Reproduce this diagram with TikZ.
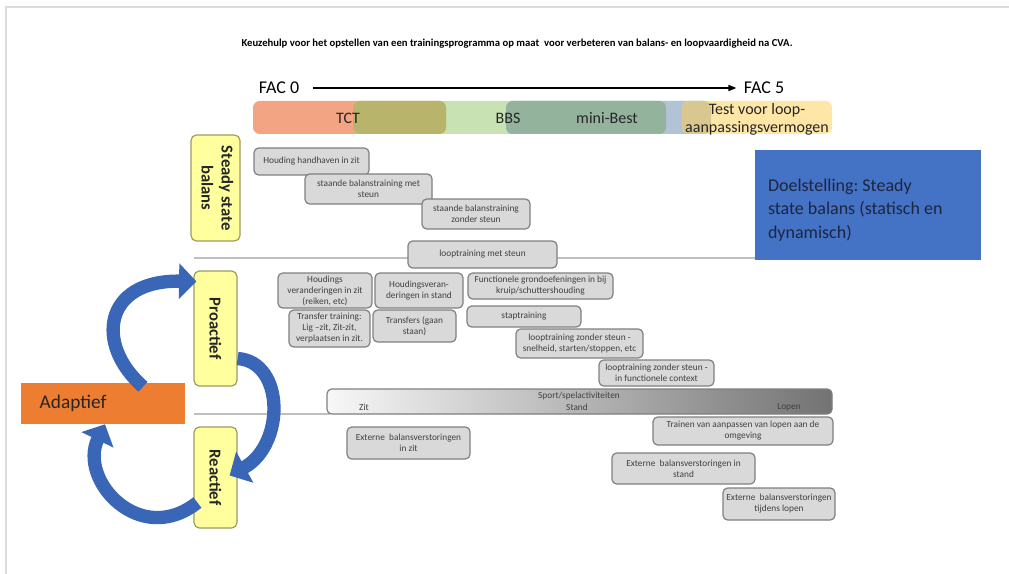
\documentclass[tikz,border=0pt]{standalone}
\usepackage{fontspec}
\setmainfont{Carlito}
\usetikzlibrary{positioning,arrows.meta,calc}

\definecolor{salmon}{HTML}{F3A483}
\definecolor{olivebar}{HTML}{B8B46C}
\definecolor{bbsgreen}{HTML}{C8E2B4}
\definecolor{minibest}{HTML}{94B39D}
\definecolor{bluegrey}{HTML}{B3C3D6}
\definecolor{testyellow}{HTML}{FDE6A6}
\definecolor{testtan}{HTML}{D8C88F}
\definecolor{boxgrey}{HTML}{D9D9D9}
\definecolor{boxedge}{HTML}{7F7F7F}
\definecolor{lblyellow}{HTML}{FFFF9E}
\definecolor{lbledge}{HTML}{9D9A62}
\definecolor{adaptorange}{HTML}{ED7D31}
\definecolor{doelblue}{HTML}{4472C4}
\definecolor{doeltext}{HTML}{1C2640}
\definecolor{arrowblue}{HTML}{3A66B8}
\definecolor{framegrey}{HTML}{DCDCDC}

\tikzstyle{gbox} = [draw=boxedge, fill=boxgrey, rounded corners=3.5pt, line width=0.9pt, align=flush center, font=\fontsize{7}{8.25}\selectfont, text=black!75, inner sep=1pt]
\tikzstyle{ybox} = [draw=lbledge, fill=lblyellow, rounded corners=4pt, line width=0.9pt, minimum width=32.25pt, font=\fontsize{12.5}{15}\selectfont\bfseries, text=black!85]
\tikzstyle{barlbl} = [font=\fontsize{12}{13.5}\selectfont, text=black!85, align=flush center]
\tikzstyle{sportlbl} = [font=\fontsize{7}{8}\selectfont, text=black!75, inner sep=0pt]
\tikzstyle{sepline} = [draw=black!25, line width=0.8pt]
\tikzstyle{loopflow} = [draw=arrowblue, line width=10pt, -{Triangle[length=13pt,width=26pt]}]

\begin{document}
\frenchspacing
\begin{tikzpicture}[x=0.75pt,y=-0.75pt]
\useasboundingbox (0,0) rectangle (1009,574);
\draw[framegrey, line width=1.5pt] (6,574) -- (6,7) -- (1009,7);

\node[font=\fontsize{8}{9.5}\selectfont\bfseries] (title) at (517,44) {Keuzehulp voor het opstellen van een trainingsprogramma op maat~ voor verbeteren van balans- en loopvaardigheid na CVA.};

\node[font=\fontsize{13.5}{15}\selectfont] (fac0) at (279,88) {FAC 0};
\node[font=\fontsize{13.5}{15}\selectfont] (fac5) at (764,88) {FAC 5};
\draw[line width=1pt, -{Triangle[length=6pt,width=4.5pt]}] ([xshift=7pt]fac0.east) -- ([xshift=-2pt]fac5.west);

\fill[salmon, rounded corners=5pt] (253,101) rectangle (446,134);
\fill[bbsgreen, rounded corners=5pt] (353,101) rectangle (711,134);
\fill[olivebar, rounded corners=5pt] (353,101) rectangle (446,134);
\fill[bluegrey, rounded corners=5pt] (506,101) rectangle (711,134);
\fill[minibest, rounded corners=5pt] (506,101) rectangle (666,134);
\fill[testyellow, rounded corners=5pt] (682,101) rectangle (832,134);
\fill[testtan, rounded corners=5pt] (682,101) rectangle (711,134);

\node[barlbl] (tct) at (348,118) {TCT};
\node[barlbl] (bbs) at (508,118) {BBS};
\node[barlbl] (minibestlbl) at (607,118) {mini-Best};
\node[barlbl] (testlbl) at (757,119) {Test voor loop-\\aanpassingsvermogen};

\draw[sepline] (194,258) -- (981,258);
\draw[sepline] (194,414) -- (330,414);

\node[gbox, minimum width=86.25pt, minimum height=20.25pt] (handhaven) at (311.5,161.5) {Houding handhaven in zit};
\node[gbox, minimum width=95.25pt, minimum height=22.5pt] (staandemet) at (368.5,189) {staande balanstraining met\\steun};
\node[gbox, minimum width=81pt, minimum height=22.5pt] (staandezonder) at (476,214) {staande balanstraining\\zonder steun};
\node[gbox, minimum width=111.75pt, minimum height=20.25pt] (loopmet) at (482.5,254.5) {looptraining met steun};

\node[gbox, minimum width=70.5pt, minimum height=26.25pt] (houdingzit) at (325,290.5) {Houdings\\veranderingen in zit\\(reiken, etc)};
\node[gbox, minimum width=66pt, minimum height=26.25pt] (houdingstand) at (419,290.5) {Houdingsveran-\\deringen in stand};
\node[gbox, minimum width=108.75pt, minimum height=19.5pt] (grond) at (540.5,286) {Functionele grondoefeningen in bij\\kruip/schuttershouding};
\node[gbox, minimum width=60.75pt, minimum height=27.75pt] (transfer) at (329.5,328.5) {Transfer training:\\Lig --zit, Zit-zit,\\verplaatsen in zit.};
\node[gbox, minimum width=62.25pt, minimum height=24pt] (transfers) at (414.5,326) {Transfers (gaan\\staan)};
\node[gbox, minimum width=85.5pt, minimum height=15.75pt] (stap) at (524,316.5) {staptraining};
\node[gbox, minimum width=95.25pt, minimum height=21.75pt] (loopzonder) at (579.5,343.5) {looptraining zonder steun -\\snelheid, starten/stoppen, etc};
\node[gbox, minimum width=86.25pt, minimum height=19.5pt] (loopfunc) at (656.5,373) {looptraining zonder steun -\\in functionele context};

\node[gbox, minimum width=378.75pt, minimum height=18.75pt, left color=black!3, middle color=black!10, right color=black!55] (sport) at (579.5,401.5) {};
\node[sportlbl] (sporttxt) at (579,396) {Sport/spelactiviteiten};
\node[sportlbl] (zit) at (364,407) {Zit};
\node[sportlbl] (stand) at (577,407) {Stand};
\node[sportlbl] (lopen) at (789,407) {Lopen};

\node[gbox, minimum width=92.25pt, minimum height=24pt] (extzit) at (408.5,443) {Externe~ balansverstoringen\\in zit};
\node[gbox, minimum width=135pt, minimum height=21pt] (aanpassen) at (743,431) {Trainen van aanpassen van lopen aan de\\omgeving};
\node[gbox, minimum width=107.25pt, minimum height=23.25pt] (extstand) at (683.5,468.5) {Externe~ balansverstoringen in\\stand};
\node[gbox, minimum width=84pt, minimum height=24pt] (extlopen) at (779,504) {Externe~ balansverstoringen\\tijdens lopen};

\node[ybox, minimum height=79.5pt] (steady) at (215.5,188) {\rotatebox{-90}{\begin{tabular}{@{}c@{}}Steady state\\balans\end{tabular}}};
\node[ybox, minimum height=86.25pt] (proactief) at (215.5,328.5) {\rotatebox{-90}{Proactief}};
\node[ybox, minimum height=75.75pt] (reactief) at (215.5,477.5) {\rotatebox{-90}{Reactief}};

\node[fill=adaptorange, minimum width=123pt, minimum height=30.75pt, text width=95pt, inner xsep=14pt, align=flush left, font=\fontsize{14.5}{16}\selectfont, text=black!85] (adaptief) at (103,403.5) {Adaptief};

\node[fill=doelblue, minimum width=169.5pt, minimum height=82.5pt, text width=150pt, inner xsep=9.75pt, align=flush left, font=\fontsize{13.5}{17.5}\selectfont, text=doeltext] (doel) at (868,205) {\rule{0pt}{17pt}Doelstelling: Steady\\state balans (statisch en\\dynamisch)};

\draw[loopflow] ($(adaptief.north)+(40,4)$) .. controls (95,345) and (103,280) .. ($(proactief.north west)+(3,11)$);
\draw[loopflow] ($(proactief.east)+(0,30)$) .. controls (285,362) and (285,445) .. ($(reactief.east)+(-8,-2)$);
\draw[loopflow] ($(reactief.west)+(4,25)$) .. controls (140,548) and (78,480) .. ($(adaptief.south)+(2,0)$);

\end{tikzpicture}
\end{document}
